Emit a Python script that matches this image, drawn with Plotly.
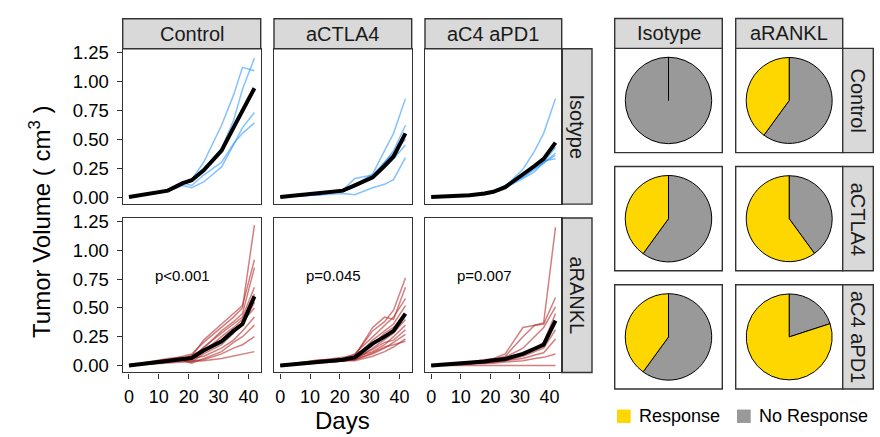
import plotly.graph_objects as go

# ---------------- data ----------------
days = [0, 13, 18, 21, 25, 31, 35, 38, 42]

treatments = ["Control", "aCTLA4", "aC4 aPD1"]
antibodies = ["Isotype", "aRANKL"]

# Isotype row (individual mice)
iso_control = [
    [0, 0.05, 0.11, 0.15, 0.30, 0.62, 0.88, 1.12, 1.09],
    [0, 0.06, 0.13, 0.14, 0.24, 0.42, 0.66, 0.93, 1.20],
    [0, 0.05, 0.10, 0.08, 0.13, 0.26, 0.45, 0.60, 0.73],
    [0, 0.05, 0.12, 0.10, 0.19, 0.30, 0.46, 0.55, 0.64],
]
iso_actla4 = [
    [0, 0.02, 0.04, 0.05, 0.10, 0.20, 0.40, 0.55, 0.85],
    [0, 0.02, 0.04, 0.06, 0.16, 0.19, 0.30, 0.40, 0.62],
    [0, 0.03, 0.04, 0.05, 0.10, 0.18, 0.30, 0.38, 0.50],
    [0, 0.02, 0.04, 0.05, 0.09, 0.16, 0.25, 0.33, 0.45],
    [0, 0.02, 0.03, 0.03, 0.02, 0.08, 0.11, 0.15, 0.34],
]
iso_ac4apd1 = [
    [0, 0.01, 0.03, 0.05, 0.09, 0.24, 0.40, 0.55, 0.85],
    [0, 0.02, 0.03, 0.04, 0.08, 0.18, 0.25, 0.30, 0.43],
    [0, 0.01, 0.03, 0.05, 0.10, 0.17, 0.24, 0.29, 0.38],
    [0, 0.02, 0.03, 0.04, 0.08, 0.16, 0.22, 0.30, 0.36],
    [0, 0.01, 0.02, 0.04, 0.09, 0.20, 0.26, 0.31, 0.33],
]
# aRANKL row (individual mice)
rankl_control = [
    [0, 0.05, 0.08, 0.10, 0.20, 0.33, 0.42, 0.50, 1.22],
    [0, 0.04, 0.06, 0.08, 0.22, 0.36, 0.45, 0.52, 0.92],
    [0, 0.03, 0.05, 0.07, 0.15, 0.30, 0.38, 0.45, 0.85],
    [0, 0.06, 0.07, 0.06, 0.16, 0.28, 0.36, 0.42, 0.68],
    [0, 0.04, 0.05, 0.05, 0.12, 0.25, 0.33, 0.40, 0.62],
    [0, 0.03, 0.06, 0.09, 0.14, 0.20, 0.30, 0.35, 0.55],
    [0, 0.05, 0.04, 0.03, 0.10, 0.18, 0.28, 0.38, 0.50],
    [0, 0.04, 0.05, 0.06, 0.08, 0.15, 0.22, 0.30, 0.42],
    [0, 0.03, 0.04, 0.02, 0.06, 0.12, 0.20, 0.25, 0.35],
    [0, 0.04, 0.05, 0.04, 0.05, 0.10, 0.15, 0.18, 0.25],
    [0, 0.02, 0.03, 0.03, 0.04, 0.06, 0.08, 0.10, 0.12],
]
rankl_actla4 = [
    [0, 0.04, 0.06, 0.07, 0.09, 0.30, 0.38, 0.48, 0.76],
    [0, 0.03, 0.05, 0.06, 0.08, 0.33, 0.42, 0.40, 0.68],
    [0, 0.05, 0.05, 0.06, 0.10, 0.25, 0.35, 0.42, 0.58],
    [0, 0.04, 0.04, 0.05, 0.06, 0.22, 0.30, 0.36, 0.52],
    [0, 0.03, 0.05, 0.05, 0.07, 0.18, 0.28, 0.33, 0.45],
    [0, 0.03, 0.04, 0.04, 0.05, 0.15, 0.22, 0.28, 0.40],
    [0, 0.04, 0.05, 0.05, 0.07, 0.12, 0.18, 0.25, 0.35],
    [0, 0.03, 0.04, 0.05, 0.06, 0.14, 0.20, 0.22, 0.31],
    [0, 0.02, 0.03, 0.04, 0.05, 0.10, 0.15, 0.20, 0.27],
    [0, 0.03, 0.04, 0.04, 0.04, 0.08, 0.12, 0.16, 0.23],
    [0, 0.03, 0.03, 0.04, 0.05, 0.11, 0.16, 0.18, 0.21],
]
rankl_ac4apd1 = [
    [0, 0.02, 0.04, 0.05, 0.08, 0.25, 0.35, 0.37, 1.20],
    [0, 0.03, 0.05, 0.06, 0.10, 0.33, 0.35, 0.36, 0.59],
    [0, 0.02, 0.04, 0.05, 0.07, 0.15, 0.25, 0.33, 0.51],
    [0, 0.02, 0.03, 0.04, 0.05, 0.10, 0.15, 0.20, 0.45],
    [0, 0.01, 0.03, 0.03, 0.04, 0.08, 0.12, 0.15, 0.31],
    [0, 0.02, 0.02, 0.03, 0.04, 0.06, 0.09, 0.11, 0.23],
    [0, 0.01, 0.02, 0.02, 0.03, 0.04, 0.06, 0.07, 0.10],
    [0, 0, 0, 0, 0, 0, 0, 0, 0],
]
# group means (black lines)
mean_iso_control = [0, 0.055, 0.12, 0.145, 0.23, 0.40, 0.60, 0.74, 0.94]
mean_iso_actla4 = [0, 0.03, 0.045, 0.055, 0.10, 0.17, 0.27, 0.35, 0.55]
mean_iso_ac4apd1 = [0, 0.015, 0.03, 0.045, 0.085, 0.19, 0.27, 0.33, 0.47]
mean_rankl_control = [0, 0.04, 0.055, 0.065, 0.13, 0.21, 0.30, 0.36, 0.60]
mean_rankl_actla4 = [0, 0.035, 0.045, 0.05, 0.07, 0.19, 0.25, 0.30, 0.45]
mean_rankl_ac4apd1 = [0, 0.02, 0.035, 0.045, 0.056, 0.10, 0.15, 0.18, 0.39]

p_values = ["p<0.001", "p=0.045", "p=0.007"]

# pie charts: % response per treatment (rows) and antibody (columns)
response_isotype = [0, 40, 40]
response_arankl = [40, 60, 80]
pie_labels = ["Response", "No Response"]
pie_colors = ["#FFD700", "#999999"]

y_ticks = [0, 0.25, 0.5, 0.75, 1.0, 1.25]
x_ticks = [0, 10, 20, 30, 40]

# ---------------- layout helpers ----------------
W, H = 880, 437
def fx(px):
    return px / W
def fy(py):
    return 1 - py / H

FONT = "Liberation Sans, Arial, Helvetica, sans-serif"
DARK = "#333333"
STRIP = "#D9D9D9"

line_cols = [(122.7, 260.7), (274.0, 411.7), (425.0, 561.7)]
line_rows = [(42.7, 201.7), (216.0, 374.0)]
line_strip_top = (12.0, 42.7)
line_strip_right = (561.7, 592.0)

pie_cols = [(614.7, 722.3), (735.7, 842.7)]
pie_rows = [(42.3, 149.0), (163.3, 270.0), (284.3, 391.0)]
pie_strip_top = (11.7, 42.3)
pie_strip_right = (842.7, 873.3)

fig = go.Figure()

individual = [[iso_control, iso_actla4, iso_ac4apd1],
              [rankl_control, rankl_actla4, rankl_ac4apd1]]
means = [[mean_iso_control, mean_iso_actla4, mean_iso_ac4apd1],
         [mean_rankl_control, mean_rankl_actla4, mean_rankl_ac4apd1]]
row_colors = ["rgba(30,144,255,0.55)", "rgba(178,34,34,0.58)"]

shapes = []
annotations = []

def note(x, y, text, size, **kw):
    d = dict(x=x, y=y, xref="paper", yref="paper", text=text, showarrow=False,
             xanchor="center", yanchor="middle",
             font=dict(family=FONT, size=size, color=kw.pop("color", "black")))
    d.update(kw)
    annotations.append(d)

for r in range(2):
    for c in range(3):
        k = r * 3 + c + 1
        xa = "x" if k == 1 else f"x{k}"
        ya = "y" if k == 1 else f"y{k}"
        for mouse in individual[r][c]:
            fig.add_trace(go.Scatter(x=days, y=mouse, mode="lines", xaxis=xa, yaxis=ya,
                                     line=dict(color=row_colors[r], width=1.5),
                                     showlegend=False, hoverinfo="skip"))
        fig.add_trace(go.Scatter(x=days, y=means[r][c], mode="lines", xaxis=xa, yaxis=ya,
                                 line=dict(color="black", width=4),
                                 showlegend=False))
        x0, x1 = line_cols[c]
        y0, y1 = line_rows[r]
        xkey = "xaxis" if k == 1 else f"xaxis{k}"
        ykey = "yaxis" if k == 1 else f"yaxis{k}"
        fig.layout[xkey] = dict(
            domain=[fx(x0), fx(x1)], anchor=ya, range=[-2.1, 44.1],
            tickvals=x_ticks, showgrid=False, zeroline=False,
            showline=True, mirror=True, linecolor=DARK, linewidth=1.4,
            ticks="outside" if r == 1 else "", ticklen=5, tickwidth=1.3, tickcolor=DARK,
            ticklabelstandoff=3,
            showticklabels=(r == 1), tickfont=dict(family=FONT, size=18, color="black"))
        fig.layout[ykey] = dict(
            domain=[fy(y1), fy(y0)], anchor=xa, range=[-0.061, 1.281],
            tickvals=y_ticks, tickformat=".2f", showgrid=False, zeroline=False,
            showline=True, mirror=True, linecolor=DARK, linewidth=1.4,
            ticks="outside" if c == 0 else "", ticklen=5, tickwidth=1.3, tickcolor=DARK,
            ticklabelstandoff=4,
            showticklabels=(c == 0), tickfont=dict(family=FONT, size=18.5, color="black"))
        if r == 1:
            annotations.append(dict(x=18, y=0.78, xref=xa, yref=ya, text=p_values[c],
                                    showarrow=False, xanchor="center", yanchor="middle",
                                    font=dict(family=FONT, size=15, color="black")))

# strips of the line grid
for c in range(3):
    x0, x1 = line_cols[c]
    shapes.append(dict(type="rect", xref="paper", yref="paper", x0=fx(x0), x1=fx(x1),
                       y0=fy(line_strip_top[1]), y1=fy(line_strip_top[0]),
                       fillcolor=STRIP, line=dict(color=DARK, width=1.4), layer="below"))
    note(fx((x0 + x1) / 2), fy(sum(line_strip_top) / 2), treatments[c], 20, color="#1a1a1a")
for r in range(2):
    y0, y1 = line_rows[r]
    shapes.append(dict(type="rect", xref="paper", yref="paper", x0=fx(line_strip_right[0]), x1=fx(line_strip_right[1]),
                       y0=fy(y1), y1=fy(y0), fillcolor=STRIP, line=dict(color=DARK, width=1.4), layer="below"))
    note(fx(sum(line_strip_right) / 2), fy((y0 + y1) / 2), antibodies[r], 20, color="#1a1a1a", textangle=90)

# axis titles
note(fx(342), fy(423), "Days", 24)
note(fx(40), fy(220), "Tumor Volume ( cm<sup>3</sup> )", 24, textangle=-90)

# ---------------- pies ----------------
# plotly puts the first slice clockwise from 12 o'clock, so "No Response" goes first
responses = [response_isotype, response_arankl]
for c in range(2):
    for r in range(3):
        x0, x1 = pie_cols[c]
        y0, y1 = pie_rows[r]
        cx, cy = (x0 + x1) / 2, (y0 + y1) / 2
        rad = 0.411 * (x1 - x0)
        resp = responses[c][r]
        fig.add_trace(go.Pie(labels=[pie_labels[1], pie_labels[0]], values=[100 - resp, resp], sort=False,
                             direction="clockwise", rotation=0,
                             marker=dict(colors=[pie_colors[1], pie_colors[0]], line=dict(color="black", width=1)),
                             textinfo="none", showlegend=False,
                             domain=dict(x=[fx(cx - rad), fx(cx + rad)], y=[fy(cy + rad), fy(cy - rad)])))
        shapes.append(dict(type="rect", xref="paper", yref="paper", x0=fx(x0), x1=fx(x1),
                           y0=fy(y1), y1=fy(y0), line=dict(color=DARK, width=1.4), layer="below"))
        if resp == 0:
            # boundary of the empty "Response" slice at 12 o'clock
            shapes.append(dict(type="line", xref="paper", yref="paper", x0=fx(cx), x1=fx(cx),
                               y0=fy(cy), y1=fy(cy - rad * 0.99), line=dict(color="black", width=1)))

for c in range(2):
    x0, x1 = pie_cols[c]
    shapes.append(dict(type="rect", xref="paper", yref="paper", x0=fx(x0), x1=fx(x1),
                       y0=fy(pie_strip_top[1]), y1=fy(pie_strip_top[0]),
                       fillcolor=STRIP, line=dict(color=DARK, width=1.4), layer="below"))
    note(fx((x0 + x1) / 2), fy(sum(pie_strip_top) / 2), antibodies[c], 20, color="#1a1a1a")
for r in range(3):
    y0, y1 = pie_rows[r]
    shapes.append(dict(type="rect", xref="paper", yref="paper", x0=fx(pie_strip_right[0]), x1=fx(pie_strip_right[1]),
                       y0=fy(y1), y1=fy(y0), fillcolor=STRIP, line=dict(color=DARK, width=1.4), layer="below"))
    note(fx(sum(pie_strip_right) / 2), fy((y0 + y1) / 2), treatments[r], 20, color="#1a1a1a", textangle=90)

# pie legend
legend_x = [617.0, 737.0]
for i in range(2):
    lx = legend_x[i]
    shapes.append(dict(type="rect", xref="paper", yref="paper", x0=fx(lx), x1=fx(lx + 13.7),
                       y0=fy(425.7), y1=fy(412.0), fillcolor=pie_colors[i], line=dict(width=0)))
    note(fx(lx + 20), fy(419), pie_labels[i], 18, xanchor="left")

fig.update_layout(width=W, height=H, margin=dict(l=0, r=0, t=0, b=0),
                  paper_bgcolor="white", plot_bgcolor="white",
                  shapes=shapes, annotations=annotations, showlegend=False)

fig.write_html("out.html", config={"displayModeBar": False},
               post_script="document.body.style.margin='0';")
